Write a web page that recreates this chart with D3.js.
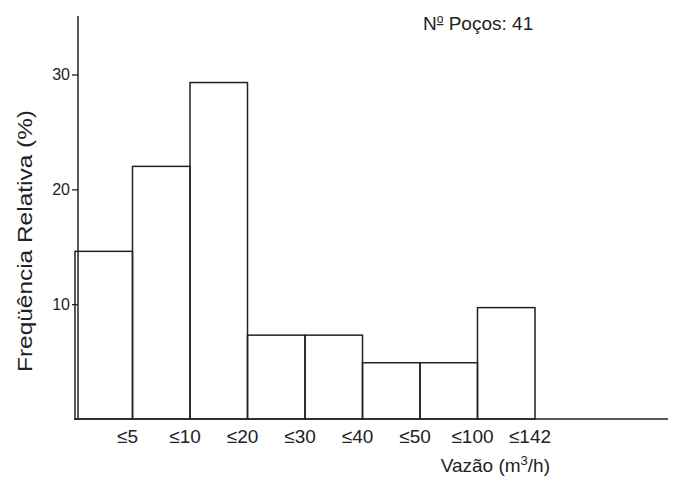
<!DOCTYPE html>
<html lang="pt">
<head>
    <meta charset="UTF-8">
    <title>Vazão</title>
    <style>
        body { margin: 0; background: #fff; }
        text { font-family: "Liberation Sans", "DejaVu Sans", sans-serif; fill: #222; }
    </style>
</head>
<script src="https://cdn.jsdelivr.net/npm/d3@7"></script>
<body>
<script>
    // classes de vazão (m3/h) e frequência relativa (%)
    var categories = ["≤5", "≤10", "≤20", "≤30", "≤40", "≤50", "≤100", "≤142"];
    var values = [14.6, 22.0, 29.3, 7.3, 7.3, 4.9, 4.9, 9.7];
    var yTicks = [10, 20, 30];

    var width = 683, height = 482;
    var x0 = 75, x1 = 535, y0 = 419, yTop = 16;

    var svg = d3.select("body")
        .append("svg")
        .attr("width", width)
        .attr("height", height);

    var xScale = d3.scaleBand().domain(categories).range([x0, x1]).padding(0),
        yScale = d3.scaleLinear().domain([0, 30]).range([y0, 74.5]);

    // barras
    svg.selectAll(".bar")
        .data(values)
        .enter().append("rect")
        .attr("class", "bar")
        .attr("x", function (d, i) { return xScale(categories[i]); })
        .attr("y", function (d) { return yScale(d); })
        .attr("width", xScale.bandwidth())
        .attr("height", function (d) { return y0 - yScale(d); })
        .attr("fill", "none")
        .attr("stroke", "#222")
        .attr("stroke-width", 1.5);

    // eixo y
    var yAxis = svg.append("g")
        .attr("transform", "translate(78,0)")
        .call(d3.axisLeft(yScale).tickValues(yTicks).tickSize(6).tickSizeOuter(0));
    yAxis.select(".domain").remove();
    yAxis.selectAll(".tick line").attr("stroke", "#222").attr("stroke-width", 1.3);
    yAxis.selectAll(".tick text")
        .attr("x", -8)
        .style("font-size", "16px")
        .attr("fill", "#222");
    svg.append("line")
        .attr("x1", 78).attr("x2", 78)
        .attr("y1", yTop).attr("y2", y0)
        .attr("stroke", "#222").attr("stroke-width", 1.5);

    // linha de base
    svg.append("line")
        .attr("x1", 74).attr("x2", 668)
        .attr("y1", y0).attr("y2", y0)
        .attr("stroke", "#222").attr("stroke-width", 1.5);

    // rótulos das classes
    svg.selectAll(".xlabel")
        .data(categories)
        .enter().append("text")
        .attr("class", "xlabel")
        .attr("x", function (d) { return xScale(d) + xScale.bandwidth() - 5; })
        .attr("y", 443)
        .attr("text-anchor", "middle")
        .style("font-size", "19px")
        .text(function (d) { return d; });

    svg.append("text")
        .attr("x", 550)
        .attr("y", 472)
        .attr("text-anchor", "end")
        .style("font-size", "19px")
        .html("Vazão (m<tspan dy='-7' font-size='13'>3</tspan><tspan dy='7'>/h)</tspan>");

    svg.append("text")
        .attr("transform", "translate(32,241) rotate(-90)")
        .attr("text-anchor", "middle")
        .attr("textLength", 262)
        .attr("lengthAdjust", "spacingAndGlyphs")
        .style("font-size", "20px")
        .text("Freqüência Relativa (%)");

    svg.append("text")
        .attr("x", 423)
        .attr("y", 30)
        .style("font-size", "19px")
        .html("N<tspan dy='-7' font-size='12' text-decoration='underline'>o</tspan><tspan dy='7'> Poços: 41</tspan>");
</script>
</body>
</html>
